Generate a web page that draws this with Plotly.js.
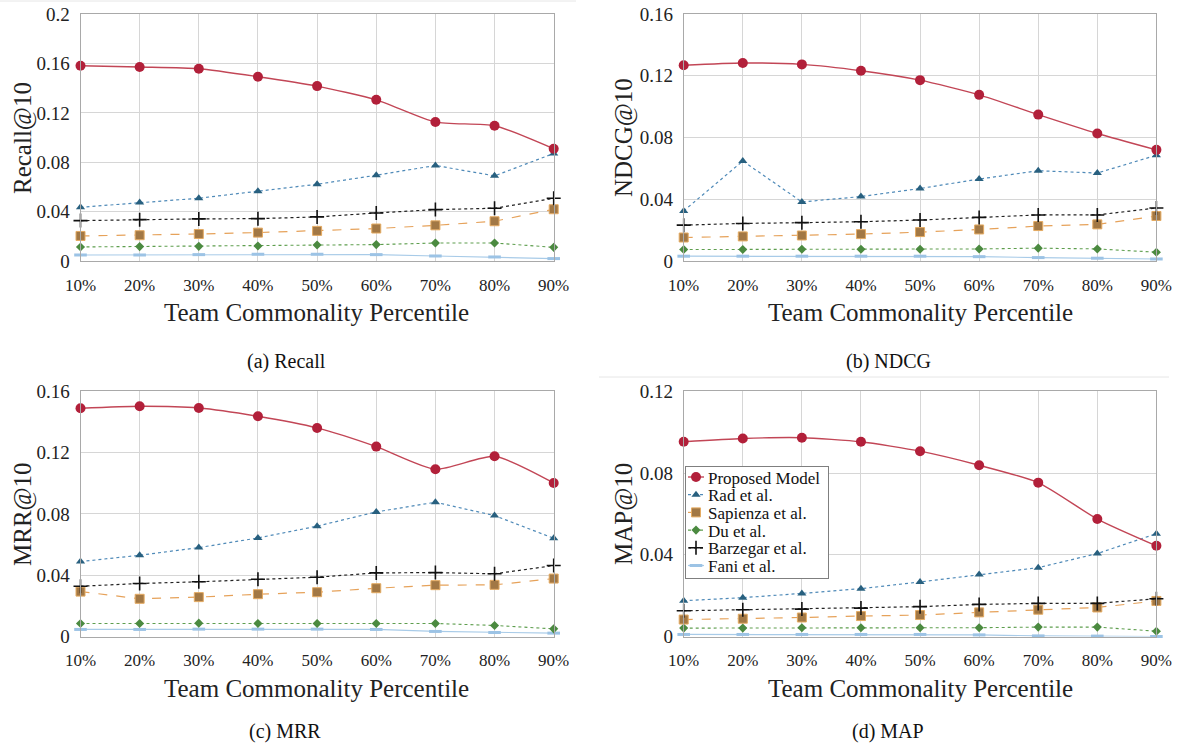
<!DOCTYPE html>
<html>
<head>
<meta charset="utf-8">
<script src="https://cdn.plot.ly/plotly-3.0.1.min.js"></script>
<style>html,body{margin:0;padding:0;background:#fff;}#chart{width:1186px;height:749px;}</style>
</head>
<body>
<div id="chart"></div>
<script>
const categories = ['10%','20%','30%','40%','50%','60%','70%','80%','90%'];
const seriesNames = ['Proposed Model','Rad et al.','Sapienza et al.','Du et al.','Barzegar et al.','Fani et al.'];

const recallProposed = [0.1582,0.1571,0.1557,0.1493,0.1417,0.1306,0.1126,0.1096,0.0910];
const recallRad      = [0.0437,0.0475,0.0510,0.0567,0.0623,0.0696,0.0775,0.0691,0.0872];
const recallSapienza = [0.0205,0.0211,0.0221,0.0232,0.0246,0.0265,0.0291,0.0324,0.0421];
const recallDu       = [0.0116,0.0119,0.0121,0.0124,0.0132,0.0135,0.0148,0.0148,0.0113];
const recallBarzegar = [0.0329,0.0337,0.0343,0.0345,0.0359,0.0391,0.0418,0.0429,0.0510];
const recallFani     = [0.0051,0.0051,0.0054,0.0057,0.0057,0.0054,0.0043,0.0035,0.0022];

const ndcgProposed = [0.1268,0.1283,0.1274,0.1233,0.1172,0.1077,0.0949,0.0827,0.0721];
const ndcgRad      = [0.0326,0.0649,0.0384,0.0419,0.0471,0.0532,0.0586,0.0571,0.0686];
const ndcgSapienza = [0.0154,0.0161,0.0167,0.0176,0.0189,0.0206,0.0228,0.0239,0.0293];
const ndcgDu       = [0.0076,0.0076,0.0078,0.0078,0.0078,0.0080,0.0085,0.0080,0.0059];
const ndcgBarzegar = [0.0234,0.0245,0.0250,0.0256,0.0267,0.0284,0.0300,0.0300,0.0345];
const ndcgFani     = [0.0033,0.0033,0.0033,0.0033,0.0033,0.0030,0.0024,0.0020,0.0015];

const mrrProposed = [0.1489,0.1502,0.1491,0.1437,0.1361,0.1239,0.1091,0.1176,0.1002];
const mrrRad      = [0.0489,0.0530,0.0580,0.0643,0.0720,0.0813,0.0876,0.0789,0.0641];
const mrrSapienza = [0.0293,0.0246,0.0257,0.0276,0.0289,0.0315,0.0335,0.0337,0.0378];
const mrrDu       = [0.0085,0.0085,0.0087,0.0085,0.0085,0.0085,0.0085,0.0072,0.0050];
const mrrBarzegar = [0.0328,0.0346,0.0357,0.0374,0.0387,0.0415,0.0417,0.0409,0.0463];
const mrrFani     = [0.0046,0.0046,0.0048,0.0048,0.0048,0.0046,0.0033,0.0026,0.0022];

const mapProposed = [0.0953,0.0969,0.0973,0.0953,0.0907,0.0838,0.0753,0.0575,0.0444];
const mapRad      = [0.0175,0.0190,0.0211,0.0234,0.0267,0.0303,0.0337,0.0406,0.0503];
const mapSapienza = [0.0083,0.0087,0.0093,0.0100,0.0105,0.0118,0.0131,0.0142,0.0174];
const mapDu       = [0.0041,0.0041,0.0043,0.0043,0.0043,0.0043,0.0046,0.0046,0.0026];
const mapBarzegar = [0.0126,0.0131,0.0134,0.0139,0.0146,0.0157,0.0162,0.0162,0.0185];
const mapFani     = [0.0010,0.0010,0.0010,0.0010,0.0010,0.0008,0.0003,0.0002,0.0000];

const yTitles = ['Recall@10','NDCG@10','MRR@10','MAP@10'];
const captions = ['(a) Recall','(b) NDCG','(c) MRR','(d) MAP'];
const yMax = [0.2, 0.16, 0.16, 0.12];

const panels = [
  [recallProposed, recallRad, recallSapienza, recallDu, recallBarzegar, recallFani],
  [ndcgProposed, ndcgRad, ndcgSapienza, ndcgDu, ndcgBarzegar, ndcgFani],
  [mrrProposed, mrrRad, mrrSapienza, mrrDu, mrrBarzegar, mrrFani],
  [mapProposed, mapRad, mapSapienza, mapDu, mapBarzegar, mapFani]
];

const FONT = '"Liberation Serif", "Times New Roman", Times, serif';
const styles = [
  {line:{color:'#c24656', width:1.4, shape:'spline', smoothing:0.6}, marker:{symbol:'circle', size:10, color:'#b2203a', line:{color:'#b2203a', width:0}}},
  {line:{color:'#4f8ab8', width:1.2, dash:'dot'}, marker:{symbol:'triangle-up', size:8, color:'#28607f'}},
  {line:{color:'#e6a25a', width:1.2, dash:'dash'}, marker:{symbol:'square', size:9, color:'#a27845', line:{color:'#e5ab62', width:1}}},
  {line:{color:'#5e9e4e', width:1.1, dash:'dot'}, marker:{symbol:'diamond', size:7, color:'#4b8a40'}},
  {line:{color:'#222222', width:1.2, dash:'dot'}, marker:{symbol:'cross-thin', size:10, color:'#111', line:{color:'#111', width:1.6}}},
  {line:{color:'#a8cbe8', width:1.2}, marker:{symbol:'line-ew', size:9, color:'#9cc3e5', line:{color:'#9cc3e5', width:3}}}
];
const drawOrder = [5,3,2,4,1,0];

const traces = [];
panels.forEach((series, p) => {
  const ax = p === 0 ? '' : String(p + 1);
  drawOrder.forEach(i => {
    traces.push({
      type:'scatter', mode:'lines+markers',
      x: categories, y: series[i],
      name: seriesNames[i],
      xaxis: 'x' + ax, yaxis: 'y' + ax,
      line: styles[i].line, marker: styles[i].marker,
      cliponaxis: false,
      showlegend: p === 3,
      legendrank: i + 1,
      hoverinfo: 'x+y+name'
    });
  });
});

const xDomL = [80.5/1186, 553.7/1186];
const xDomR = [683.7/1186, 1156.4/1186];
const yDomT = [1 - 261.3/749, 1 - 14/749];
const yDomB = [1 - 636.5/749, 1 - 391.3/749];

function xAxis(domain, anchor) {
  return {
    domain: domain, anchor: anchor, type:'category', range:[0, 8],
    showgrid:true, gridcolor:'#d6d6d6', gridwidth:1,
    showline:true, mirror:true, linecolor:'#a9a9a9', linewidth:1,
    zeroline:false, ticks:'', ticklabelstandoff: 8,
    tickfont:{family:FONT, size:17, color:'#222'}, fixedrange:true
  };
}
function yAxis(domain, anchor, max) {
  return {
    domain: domain, anchor: anchor, range:[0, max], dtick:0.04, tick0:0,
    showgrid:true, gridcolor:'#d6d6d6', gridwidth:1,
    showline:true, mirror:true, linecolor:'#a9a9a9', linewidth:1,
    zeroline:false, ticks:'', ticklabelstandoff: 6,
    tickfont:{family:FONT, size:19, color:'#222'}, fixedrange:true
  };
}

const px = v => v / 1186;
const py = v => 1 - v / 749;
const annotations = [];
const yTitlePos = [[23,138],[624,138],[23,514],[624,514]];
const xTitlePos = [[317,312],[920,312],[317,688],[920,688]];
const capPos = [[286,361],[889,361],[285,731],[888,731]];
for (let p = 0; p < 4; p++) {
  annotations.push({xref:'paper', yref:'paper', x:px(yTitlePos[p][0]), y:py(yTitlePos[p][1]), text:yTitles[p], textangle:-90, showarrow:false, xanchor:'center', yanchor:'middle', font:{family:FONT, size:25, color:'#222'}});
  annotations.push({xref:'paper', yref:'paper', x:px(xTitlePos[p][0]), y:py(xTitlePos[p][1]), text:'Team Commonality Percentile', showarrow:false, xanchor:'center', yanchor:'middle', font:{family:FONT, size:25, color:'#222'}});
  annotations.push({xref:'paper', yref:'paper', x:px(capPos[p][0]), y:py(capPos[p][1]), text:captions[p], showarrow:false, xanchor:'center', yanchor:'middle', font:{family:FONT, size:20, color:'#111'}});
}

const layout = {
  width:1186, height:749,
  margin:{l:0, r:0, t:0, b:0},
  paper_bgcolor:'#ffffff', plot_bgcolor:'#ffffff',
  font:{family:FONT, color:'#222'},
  xaxis: xAxis(xDomL, 'y'),  yaxis: yAxis(yDomT, 'x', yMax[0]),
  xaxis2: xAxis(xDomR, 'y2'), yaxis2: yAxis(yDomT, 'x2', yMax[1]),
  xaxis3: xAxis(xDomL, 'y3'), yaxis3: yAxis(yDomB, 'x3', yMax[2]),
  xaxis4: xAxis(xDomR, 'y4'), yaxis4: yAxis(yDomB, 'x4', yMax[3]),
  showlegend:true,
  legend:{x:px(685), y:py(466), xanchor:'left', yanchor:'top', bgcolor:'#ffffff', bordercolor:'#7f7f7f', borderwidth:1,
          font:{family:FONT, size:17, color:'#111'}, tracegroupgap:0, itemwidth:30},
  annotations: annotations,
  shapes:[
    {type:'line', xref:'paper', yref:'paper', x0:0, x1:px(576), y0:py(1), y1:py(1), line:{color:'#e6e6e6', width:1}},
    {type:'line', xref:'paper', yref:'paper', x0:px(599), x1:px(1169), y0:py(377), y1:py(377), line:{color:'#e6e6e6', width:1}}
  ]
};

Plotly.newPlot('chart', traces, layout, {displayModeBar:false, staticPlot:true}).then(gd => {
  // compact the legend (short symbols, tight rows) as in the reference
  const rowH = 17.7;
  const items = gd.querySelectorAll('.legend .traces');
  let maxW = 0;
  items.forEach((el, k) => {
    el.setAttribute('transform', 'translate(1,' + (11 + k * rowH) + ')');
    const t = el.querySelector('.legendtext');
    if (t) {
      t.setAttribute('x', '22');
      try { maxW = Math.max(maxW, t.getBBox().width); } catch (e) {}
    }
    el.querySelectorAll('.legendlines path').forEach(pa => pa.setAttribute('d', 'M2,0h16'));
    el.querySelectorAll('.legendpoints path').forEach(pa => pa.setAttribute('transform', 'translate(10,0)'));
  });
  const bg = gd.querySelector('.legend .bg');
  if (bg) {
    bg.setAttribute('height', String(items.length * rowH + 6));
    if (maxW > 0) bg.setAttribute('width', String(Math.ceil(22 + maxW + 8)));
  }
});
</script>
</body>
</html>
